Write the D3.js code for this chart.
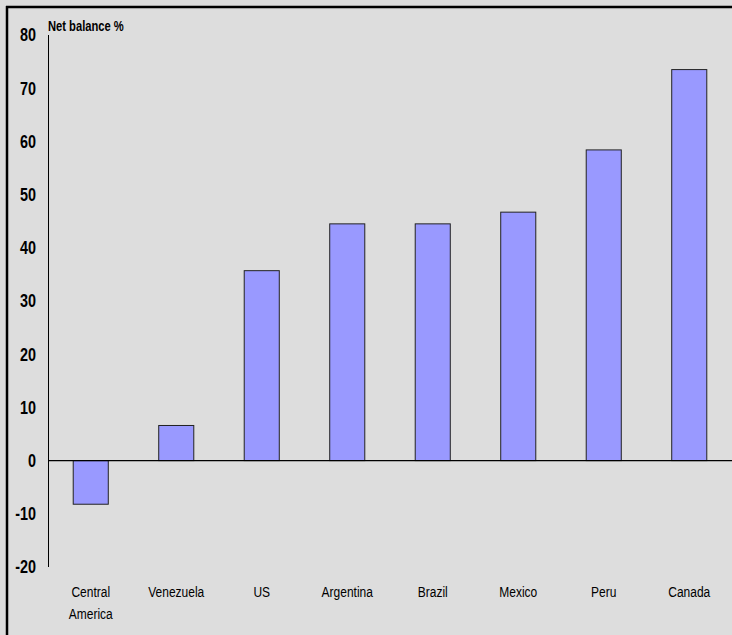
<!DOCTYPE html>
<html>
<head>
<meta charset="utf-8">
<script src="https://cdn.jsdelivr.net/npm/d3@7"></script>
<style>
  html, body { margin: 0; padding: 0; background: #dddddd; overflow: hidden; width: 732px; height: 635px; }
  svg { display: block; }
  text { font-family: 'Liberation Sans', Arial, sans-serif; fill: #000; }
</style>
</head>
<body>
<div id="chart"></div>
<script>
// Net balance by country
const categories = ['Central America', 'Venezuela', 'US', 'Argentina', 'Brazil', 'Mexico', 'Peru', 'Canada'];
const values = [-8.2, 6.6, 35.7, 44.5, 44.5, 46.7, 58.4, 73.5];
const yTicks = [-20, -10, 0, 10, 20, 30, 40, 50, 60, 70, 80];

const width = 732, height = 635;
const m = { top: 35, right: 0, bottom: 68, left: 48 };
// no narrow font installed, so squeeze text horizontally instead
const squeeze = 0.8;

const svg = d3.select('#chart').append('svg')
  .attr('width', width).attr('height', height)
  .style('background', '#dddddd');

// outer frame: only its top and left edges fall inside the picture
svg.append('line')
  .attr('x1', 7).attr('x2', 7).attr('y1', 6).attr('y2', height)
  .attr('stroke', '#000').attr('stroke-width', 2.5);
svg.append('line')
  .attr('x1', 6).attr('x2', width + 5).attr('y1', 7).attr('y2', 7)
  .attr('stroke', '#000').attr('stroke-width', 2.5);

const x = d3.scaleBand().domain(categories).range([m.left, m.left + 8 * 85.5]).paddingInner(0.59).paddingOuter(0.295);
const y = d3.scaleLinear().domain([-20, 80]).range([height - m.bottom, m.top]);

// y axis: labels only, plain vertical line
svg.append('line')
  .attr('x1', m.left + 0.5).attr('x2', m.left + 0.5)
  .attr('y1', y(80)).attr('y2', y(-20))
  .attr('stroke', '#000').attr('stroke-width', 1);

svg.append('g')
  .attr('transform', `scale(${squeeze},1)`)
  .selectAll('text')
  .data(yTicks)
  .enter().append('text')
  .attr('x', 36 / squeeze)
  .attr('y', d => y(d))
  .attr('dy', '0.36em')
  .attr('text-anchor', 'end')
  .style('font-size', '18px')
  .style('font-weight', 'bold')
  .text(d => d);

svg.append('text')
  .attr('transform', `scale(${squeeze},1)`)
  .attr('x', 48 / squeeze).attr('y', 31)
  .style('font-size', '14px')
  .style('font-weight', 'bold')
  .text('Net balance %');

// bars
svg.append('g').selectAll('rect')
  .data(values)
  .enter().append('rect')
  .attr('x', (d, i) => x(categories[i]))
  .attr('y', d => y(Math.max(0, d)))
  .attr('width', x.bandwidth())
  .attr('height', d => Math.abs(y(d) - y(0)))
  .attr('fill', '#9999ff')
  .attr('stroke', '#222')
  .attr('stroke-width', 1);

// zero line, running out to the picture's right edge
svg.append('line')
  .attr('x1', m.left).attr('x2', width + 5)
  .attr('y1', y(0)).attr('y2', y(0))
  .attr('stroke', '#000').attr('stroke-width', 1.3);

// category labels, wrapping two-word names
const cx = d => (x(d) + x.bandwidth() / 2) / squeeze;
const labels = svg.append('g')
  .attr('transform', `scale(${squeeze},1)`)
  .selectAll('text')
  .data(categories)
  .enter().append('text')
  .attr('x', cx)
  .attr('y', 597)
  .attr('text-anchor', 'middle')
  .style('font-size', '15px');

labels.each(function(d) {
  const t = d3.select(this);
  d.split(' ').forEach((w, i) => {
    t.append('tspan')
      .attr('x', cx(d))
      .attr('dy', i === 0 ? 0 : 22)
      .text(w);
  });
});
</script>
</body>
</html>
